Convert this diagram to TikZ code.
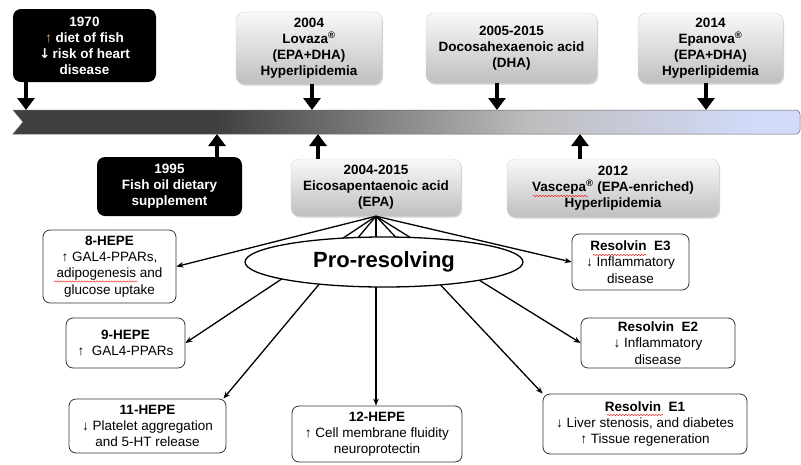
\documentclass[tikz,border=0pt]{standalone}
\usepackage{fontspec}
\setmainfont{Liberation Sans}
\newfontfamily\arrowfont{DejaVu Sans}
\usetikzlibrary{arrows.meta,
                shapes.geometric,
                decorations.pathmorphing,
                shadows}

\definecolor{bardark}{HTML}{404040}
\definecolor{barmid}{HTML}{BEBEBE}
\definecolor{barlight}{HTML}{D2DAF8}
\definecolor{upmark}{HTML}{F0B070}
\pgfdeclarehorizontalshading{timebar}{100bp}{color(0bp)=(bardark); color(38bp)=(bardark); color(58bp)=(barmid); color(72bp)=(barlight); color(100bp)=(barlight)}

\tikzset{
    darkbox/.style={fill=black, text=white, rounded corners=8pt, align=center,
                    font=\fontsize{13.5}{16}\selectfont\bfseries},
    greybox/.style={draw=gray!35, top color=gray!5, bottom color=gray!50, rounded corners=8pt, align=center,
                    drop shadow={shadow xshift=1pt, shadow yshift=-1.5pt, opacity=0.35},
                    font=\fontsize{13.5}{16}\selectfont\bfseries},
    effectbox/.style={draw=black!80, line width=0.8pt, rounded corners=7pt, fill=white, align=center,
                      font=\fontsize{13.5}{16.3}\selectfont},
    tick/.style={line width=4pt, -{Triangle[width=17pt,length=12pt]}},
    fan/.style={line width=1.3pt, -{Stealth[length=7pt,width=5.5pt]}},
    squiggle/.style={red, line width=0.4pt, decorate, decoration={snake, amplitude=0.7pt, segment length=3pt}}
}

\begin{document}
\begin{tikzpicture}[x=1pt,y=-1pt]
                \useasboundingbox (0,0) rectangle (801,464);
                \shadedraw [shading=timebar, draw=black!60, line width=0.5pt] (13,110) -- (796,110) to[out=0,in=90] (800,114) -- (800,130) to[out=-90,in=0] (796,134) -- (13,134) -- (23,122) -- cycle;
                \coordinate (t1970) at (26,110);
                \coordinate (t2004) at (312,110);
                \coordinate (t2005) at (497,110);
                \coordinate (t2014) at (706,110);
                \coordinate (b1995) at (217,134);
                \coordinate (b2004) at (318,134);
                \coordinate (b2012) at (580,134);
                \node [darkbox, minimum width=143pt, minimum height=73pt] (y1970) at (84.5,45.5) {1970\\{\mdseries\color{upmark}↑} diet of fish\\{\arrowfont\bfseries ↓}\,risk of heart\\disease};
                \node [greybox, minimum width=146pt, minimum height=72pt] (lovaza) at (309,48) {2004\\Lovaza\textsuperscript{®}\\(EPA+DHA)\\Hyperlipidemia};
                \node [greybox, minimum width=171pt, minimum height=70pt] (dha) at (511.5,48) {2005-2015\\Docosahexaenoic acid\\(DHA)};
                \node [greybox, minimum width=145pt, minimum height=70pt] (epanova) at (710.5,48) {2014\\Epanova\textsuperscript{®}\\(EPA+DHA)\\Hyperlipidemia};
                \node [darkbox, minimum width=145pt, minimum height=59pt] (y1995) at (169.5,186.5) {1995\\Fish oil dietary\\supplement};
                \node [greybox, minimum width=170pt, minimum height=57pt] (epa) at (376,187.5) {2004-2015\\Eicosapentaenoic acid\\(EPA)};
                \node [greybox, minimum width=212pt, minimum height=58pt] (vascepa) at (613,188) {2012\\Vascepa\textsuperscript{®} (EPA-enriched)\\Hyperlipidemia};
                \draw [tick] (y1970.south -| t1970) -- (t1970);
                \draw [tick] (lovaza.south -| t2004) -- (t2004);
                \draw [tick] (dha.south -| t2005) -- (t2005);
                \draw [tick] (epanova.south -| t2014) -- (t2014);
                \draw [tick] (y1995.north -| b1995) -- (b1995);
                \draw [tick] (epa.north -| b2004) -- (b2004);
                \draw [tick] (vascepa.north -| b2012) -- (b2012);
                \node [effectbox, minimum width=133pt, minimum height=73pt] (h8) at (109.5,266.5) {\textbf{8-HEPE}\\↑ GAL4-PPARs,\\adipogenesis and\\glucose uptake};
                \node [effectbox, minimum width=119pt, minimum height=50pt] (h9) at (125.5,343) {\textbf{9-HEPE}\\↑\ \ GAL4-PPARs};
                \node [effectbox, minimum width=157pt, minimum height=54pt] (h11) at (147.5,426) {\textbf{11-HEPE}\\↓ Platelet aggregation\\and 5-HT release};
                \node [effectbox, minimum width=170pt, minimum height=56pt] (h12) at (377,434) {\textbf{12-HEPE}\\↑ Cell membrane fluidity\\neuroprotectin};
                \node [effectbox, minimum width=117pt, minimum height=56pt] (e3) at (630.5,262) {\textbf{Resolvin\ \ E3}\\↓ Inflammatory\\disease};
                \node [effectbox, minimum width=154pt, minimum height=50pt] (e2) at (658,343) {\textbf{Resolvin\ \ E2}\\↓ Inflammatory\\disease};
                \node [effectbox, minimum width=204pt, minimum height=60pt] (e1) at (645,424) {\textbf{Resolvin\ \ E1}\\↓ Liver stenosis, and diabetes\\↑ Tissue regeneration};
                \draw [squiggle] (54,281.5) -- (138,281.5);
                \draw [squiggle] (533,196) -- (588,196);
                \draw [squiggle] (593,255) -- (647,255);
                \draw [squiggle] (607,415) -- (663,415);
                \draw [fan] (epa.south) -- (h8.east);
                \draw [fan] (epa.south) -- (h9.east);
                \draw [fan] (epa.south) -- ([xshift=-3pt]h11.north east);
                \draw [fan] (epa.south) -- (h12.north -| epa.south);
                \draw [fan] (epa.south) -- (e1.north west);
                \draw [fan] (epa.south) -- (e2.west);
                \draw [fan] (epa.south) -- (e3.west);
                \node [draw, ellipse, fill=white, line width=1.3pt, minimum width=278pt, minimum height=50pt,
                       font=\fontsize{22}{26}\selectfont\bfseries] (pro) at (384,262) {Pro-resolving};
            \end{tikzpicture}
\end{document}
